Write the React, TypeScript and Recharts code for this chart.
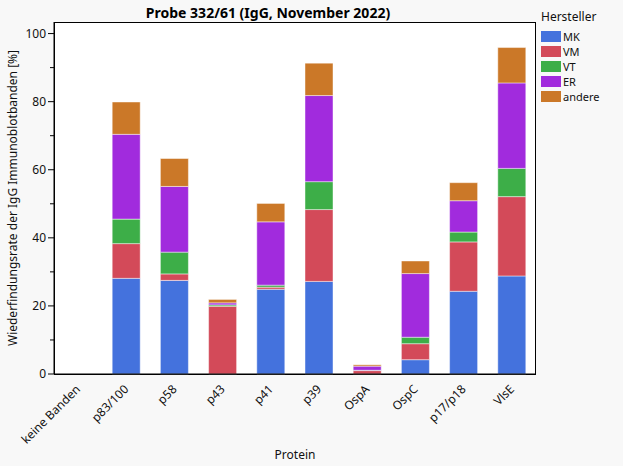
import React from "react";
import { BarChart, Bar, XAxis, YAxis } from "recharts";

// values (% per Hersteller, stacked)
const categories = ["keine Banden", "p83/100", "p58", "p43", "p41", "p39", "OspA", "OspC", "p17/p18", "VlsE"];
const mk = [0, 28.1, 27.5, 0, 24.9, 27.2, 0, 4.2, 24.3, 28.8];
const vm = [0, 10.2, 1.9, 19.9, 0.6, 21.1, 1.0, 4.7, 14.5, 23.3];
const vt = [0, 7.2, 6.4, 0.4, 0.6, 8.2, 0.1, 1.9, 2.9, 8.3];
const er = [0, 24.9, 19.3, 0.6, 18.6, 25.3, 1.2, 18.7, 9.2, 25.1];
const andere = [0, 9.5, 8.2, 1.0, 5.4, 9.5, 0.4, 3.7, 5.3, 10.4];
const yTicks = [0, 10, 20, 30, 40, 50, 60, 70, 80, 90, 100];

const series = [
  { key: "MK", color: "#4472DD" },
  { key: "VM", color: "#D34A59" },
  { key: "VT", color: "#3DAE48" },
  { key: "ER", color: "#A12BDD" },
  { key: "andere", color: "#CB7828" },
];

const data = categories.map((name, i) => ({
  name,
  MK: mk[i],
  VM: vm[i],
  VT: vt[i],
  ER: er[i],
  andere: andere[i],
}));

const FONT = "'Noto Sans', 'Open Sans', sans-serif";

const YTick = (props: any) => {
  const { x, y, payload } = props;
  const major = payload.value % 20 === 0;
  return (
    <g>
      <line x1={major ? x + 2 : x + 4} x2={x + 8} y1={y} y2={y} stroke="#000" />
      {major && (
        <text x={x} y={y} dy={4} textAnchor="end" fontSize={12} fill="#111" fontFamily={FONT}>
          {payload.value}
        </text>
      )}
    </g>
  );
};

const XTick = (props: any) => {
  const { x, y, payload } = props;
  return (
    <text
      x={x + 3}
      y={y + 8}
      textAnchor="end"
      fontSize={12}
      fill="#111"
      fontFamily={FONT}
      transform={`rotate(-45, ${x + 3}, ${y + 8})`}
    >
      {payload.value}
    </text>
  );
};

const LegendBox = () => (
  <div
    style={{
      position: "absolute",
      left: 541,
      top: 9,
      fontFamily: FONT,
      fontSize: 11,
      lineHeight: "15px",
      color: "#111",
    }}
  >
    <div style={{ marginBottom: 5, fontSize: 12 }}>Hersteller</div>
    {series.map((s) => (
      <div key={s.key} style={{ display: "flex", alignItems: "center", height: 15 }}>
        <span style={{ width: 20, height: 11, background: s.color, marginRight: 2, display: "inline-block" }} />
        <span>{s.key}</span>
      </div>
    ))}
  </div>
);

export default function App() {
  return (
    <div style={{ position: "absolute", left: 0, top: 0, width: 623, height: 466, background: "#f8f8f8" }}>
      {/* plot frame */}
      <div
        style={{
          position: "absolute",
          left: 54,
          top: 22,
          width: 482,
          height: 353,
          background: "#fff",
          border: "1px solid #000",
          boxSizing: "border-box",
        }}
      />
      <div
        style={{
          position: "absolute",
          left: 0,
          width: 536,
          top: 3,
          textAlign: "center",
          fontFamily: FONT,
          fontWeight: 700,
          fontSize: 14,
          color: "#000",
        }}
      >
        Probe 332/61 (IgG, November 2022)
      </div>
      <LegendBox />
      <div style={{ position: "absolute", left: 0, top: 0 }}>
        <BarChart width={623} height={466} data={data} margin={{ top: 22, right: 87, bottom: 4, left: 4 }}>
          <XAxis
            dataKey="name"
            tickLine={false}
            axisLine={{ stroke: "#000" }}
            tick={<XTick />}
            interval={0}
            height={88}
            label={{ value: "Protein", position: "insideBottom", offset: 3, fontSize: 12, fill: "#111", fontFamily: FONT }}
          />
          <YAxis
            domain={[0, 103.4]}
            ticks={yTicks}
            interval={0}
            width={50}
            tickLine={false}
            axisLine={{ stroke: "#000" }}
            tick={<YTick />}
            tickMargin={2}
            tickSize={6}
            label={{
              value: "Wiederfindungsrate der IgG Immunoblotbanden [%]",
              angle: -90,
              position: "center",
              dx: -16,
              fontSize: 12,
              fill: "#111",
              fontFamily: FONT,
            }}
          />
          {series.map((s) => (
            <Bar
              key={s.key}
              dataKey={s.key}
              stackId="a"
              fill={s.color}
              stroke="#fff"
              strokeOpacity={0.45}
              strokeWidth={1}
              barSize={28}
              isAnimationActive={false}
            />
          ))}
        </BarChart>
      </div>
    </div>
  );
}
